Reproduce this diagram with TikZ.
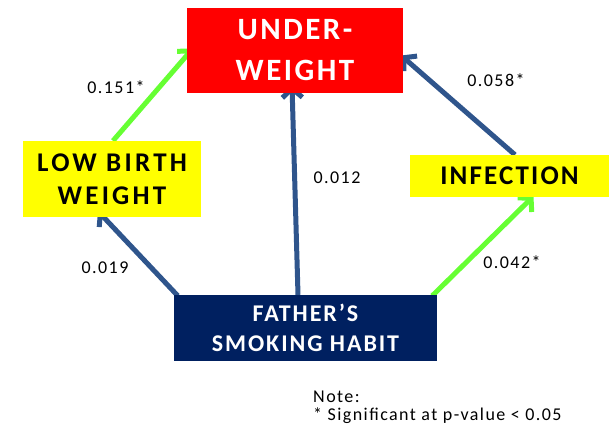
\documentclass[tikz,border=0pt]{standalone}
\usepackage{fontspec}
\setmainfont{Carlito}
\newfontfamily\boxfont{Carlito}[LetterSpace=8]
\newfontfamily\wideboxfont{Carlito}[LetterSpace=12]
\newfontfamily\numfont{Carlito}[LetterSpace=8]
\usetikzlibrary{arrows.meta,calc,backgrounds}
\definecolor{uwred}{RGB}{255,0,0}
\definecolor{ylw}{RGB}{255,255,0}
\definecolor{navy}{RGB}{0,32,96}
\definecolor{arrblue}{RGB}{47,85,140}
\definecolor{arrgreen}{RGB}{102,255,51}
\tikzset{
  box/.style={rectangle, inner sep=0pt, align=center},
  conn/.style={line width=5pt, -{Straight Barb[length=9pt,width=20pt,line width=5pt]}},
  blueconn/.style={conn, draw=arrblue},
  greenconn/.style={conn, draw=arrgreen},
  lbl/.style={font=\numfont\fontsize{18}{20}\selectfont, inner sep=0pt},
}
\begin{document}
\begin{tikzpicture}[x=1pt,y=-1pt]
\useasboundingbox (0,0) rectangle (611,429);
% boxes
\node[box, fill=uwred, text=white, minimum width=216pt, minimum height=85pt,
      font=\boxfont\bfseries\fontsize{31}{41}\selectfont] (uw) at (295,50.5) {UNDER-\\WEIGHT};
\node[box, fill=ylw, text=black, minimum width=178pt, minimum height=76pt,
      font=\wideboxfont\bfseries\fontsize{27}{33}\selectfont] (lbw) at (112,179) {LOW BIRTH\\WEIGHT};
\node[box, fill=ylw, text=black, minimum width=199pt, minimum height=42pt,
      font=\boxfont\bfseries\fontsize{27}{33}\selectfont] (inf) at (509.5,176) {INFECTION};
\node[box, fill=navy, text=white, minimum width=263pt, minimum height=66pt,
      font=\boxfont\bfseries\fontsize{24}{30}\selectfont] (fsh) at (305.5,328) {FATHER’S\\SMOKING HABIT};
% connectors behind boxes
\begin{scope}[on background layer]
\draw[greenconn] ([xshift=1pt]lbw.north) -- ([shift={(6,-2)}]uw.west);
\draw[blueconn] ([shift={(4,1)}]fsh.north west) -- ([shift={(-14,-6)}]lbw.south);
\draw[blueconn] ([xshift=-7.5pt]fsh.north) -- ([shift={(-3,-8)}]uw.south);
\draw[blueconn] ([xshift=5.5pt]inf.north) -- ([shift={(-2,5)}]uw.east);
\draw[greenconn] ([shift={(-5,1)}]fsh.north east) -- ([shift={(24,-1)}]inf.south);
\end{scope}
% labels
\node[lbl] (l1) at (116,87) {0.151*};
\node[lbl] (l2) at (337,178) {0.012};
\node[lbl] (l3) at (496,80) {0.058*};
\node[lbl] (l4) at (105,268) {0.019};
\node[lbl] (l5) at (512,262) {0.042*};
\node[lbl, anchor=west] (n1) at (313,397) {Note:};
\node[lbl, anchor=west] (n2) at (313,416) {* Significant at p-value < 0.05};
\end{tikzpicture}
\end{document}
